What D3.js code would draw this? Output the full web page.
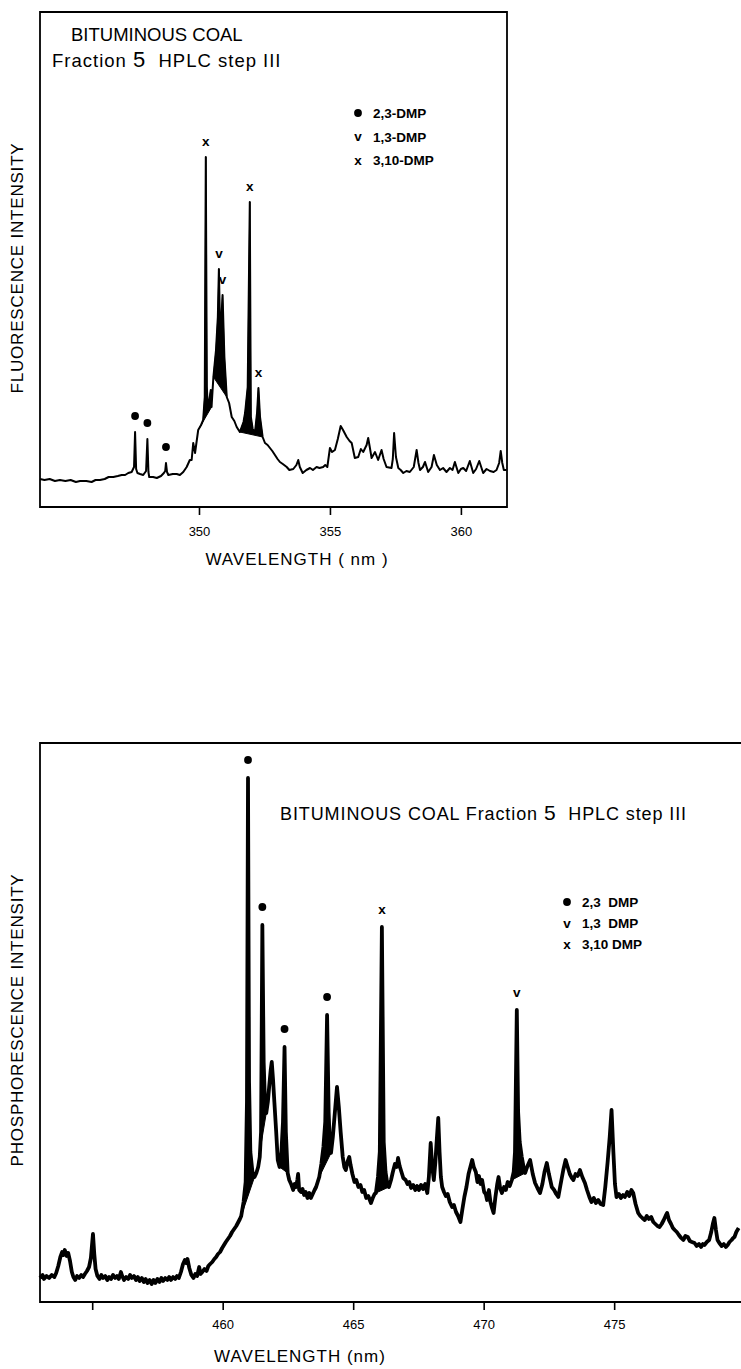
<!DOCTYPE html>
<html>
<head>
<meta charset="utf-8">
<script src="https://cdn.jsdelivr.net/npm/d3@7"></script>
<style>
  body { margin: 0; background: #fff; }
  text { font-family: "Liberation Sans", Arial, Helvetica, sans-serif; fill: #000; }
</style>
</head>
<body>
<svg id="chart"></svg>
<script>
// ---- data (wavelength nm, intensity arb. units) ----
const FLUOR_SPECTRUM = [
  [343.93,28],[344.1,27],[344.3,28],[344.5,26],[344.69,27],[344.9,26],[345.1,27],[345.3,25],
  [345.46,26],[345.7,26],[345.9,25],[346.05,27],[346.22,27],[346.4,28],[346.55,30],[346.73,30],
  [346.9,31],[347.05,32],[347.18,32],[347.3,34],[347.43,35],[347.52,40],[347.56,75],[347.6,38],
  [347.65,34],[347.75,33],[347.87,32],[347.98,36],[348.03,68],[348.07,35],[348.10,30],[348.25,30],
  [348.39,29],[348.55,31],[348.66,34],[348.71,36],[348.74,44],[348.78,35],[348.83,32],[349.0,33],
  [349.15,33],[349.27,32],[349.4,35],[349.53,40],[349.65,47],[349.72,47],[349.78,64],[349.85,54],
  [349.97,77],[350.08,82],[350.16,87],[350.22,110],[350.26,350],[350.30,120],[350.34,97],[350.45,117],
  [350.48,100],[350.55,130],[350.65,157],[350.72,190],[350.76,238],[350.81,170],[350.85,185],[350.90,212],
  [350.97,150],[351.06,110],[351.15,104],[351.25,90],[351.35,86],[351.44,80],[351.56,75],[351.70,85],
  [351.76,94],[351.86,120],[351.94,305],[351.98,90],[352.05,78],[352.14,75],[352.22,95],[352.27,119],
  [352.33,90],[352.43,70],[352.52,64],[352.62,62],[352.71,59],[352.80,56],[352.90,52],[353.0,48],
  [353.09,45],[353.2,43],[353.35,40],[353.45,37],[353.60,38],[353.72,42],[353.79,47],[353.85,40],
  [353.96,34],[354.1,37],[354.24,39],[354.35,37],[354.49,40],[354.6,39],[354.74,40],[354.82,42],
  [354.90,40],[355.00,59],[355.08,55],[355.19,57],[355.3,68],[355.41,81],[355.5,77],[355.64,70],
  [355.75,66],[355.83,64],[355.95,49],[356.08,50],[356.18,58],[356.27,55],[356.4,62],[356.46,69],
  [356.52,60],[356.59,49],[356.72,55],[356.84,47],[356.97,57],[357.05,48],[357.16,40],[357.35,39],
  [357.40,48],[357.45,74],[357.52,50],[357.61,39],[357.70,37],[357.80,34],[357.92,36],[358.05,35],
  [358.2,40],[358.31,57],[358.38,44],[358.44,37],[358.55,40],[358.63,45],[358.75,35],[358.88,40],
  [358.97,52],[359.08,42],[359.20,37],[359.32,39],[359.45,35],[359.58,39],[359.68,37],[359.77,45],
  [359.90,34],[360.0,38],[360.09,39],[360.2,36],[360.34,46],[360.47,34],[360.58,38],[360.70,46],
  [360.85,34],[360.98,38],[361.11,36],[361.25,35],[361.36,37],[361.46,44],[361.52,56],[361.58,44],
  [361.64,37],[361.74,37]
];
// wavelength spans whose peaks print solid black
const FLUOR_FILLED = [[349.97, 350.48], [350.55, 351.06], [351.56, 352.43]];
const FLUOR_MARKERS = [
  [347.56, "dot"], [348.03, "dot"], [348.74, "dot"], [350.26, "x"],
  [350.76, "v"], [350.90, "v"], [351.94, "x"], [352.27, "x"]
];
const FLUOR_TICKS = [350, 355, 360];
const FLUOR_TICK_LABELS = ["350", "355", "360"];
const FLUOR_LEGEND = ["2,3-DMP", "1,3-DMP", "3,10-DMP"];

const PHOS_SPECTRUM = [
  [453.0,24],[453.1,27],[453.15,23],[453.25,26],[453.35,24],[453.45,27],[453.55,25],[453.62,29],
  [453.7,36],[453.78,45],[453.85,50],[453.9,47],[453.95,52],[454.02,46],[454.08,49],[454.15,41],
  [454.22,30],[454.28,25],[454.35,22],[454.42,26],[454.5,24],[454.58,27],[454.65,25],[454.72,28],
  [454.8,31],[454.88,35],[454.95,44],[455.03,68],[455.08,48],[455.13,33],[455.2,26],[455.28,23],
  [455.35,27],[455.42,24],[455.5,26],[455.58,22],[455.65,25],[455.72,23],[455.8,27],[455.88,24],
  [455.95,26],[456.02,23],[456.1,30],[456.15,26],[456.22,22],[456.3,25],[456.38,23],[456.45,27],
  [456.52,24],[456.6,26],[456.68,22],[456.75,25],[456.82,21],[456.9,24],[456.98,20],[457.05,23],
  [457.12,19],[457.2,22],[457.28,18],[457.35,22],[457.42,19],[457.5,23],[457.58,20],[457.65,24],
  [457.72,21],[457.8,24],[457.88,22],[457.95,25],[458.02,22],[458.1,25],[458.18,23],[458.25,26],
  [458.32,24],[458.4,30],[458.48,38],[458.55,42],[458.6,39],[458.65,43],[458.72,34],[458.8,27],
  [458.88,24],[458.95,28],[459.02,26],[459.1,35],[459.15,28],[459.22,30],[459.3,33],[459.38,31],
  [459.45,36],[459.52,38],[459.6,40],[459.68,43],[459.75,45],[459.82,48],[459.9,50],[459.98,54],
  [460.05,57],[460.12,60],[460.2,63],[460.28,66],[460.36,70],[460.44,73],[460.52,76],[460.6,80],
  [460.66,83],[460.71,86],[460.8,100],[460.88,120],[460.93,200],[460.97,524],[461.01,220],[461.06,150],
  [461.14,130],[461.22,125],[461.29,129],[461.36,135],[461.42,145],[461.47,170],[461.52,377],[461.57,240],
  [461.62,200],[461.67,189],[461.73,200],[461.78,215],[461.84,232],[461.88,240],[461.93,222],[461.98,200],
  [462.05,170],[462.11,142],[462.18,135],[462.25,150],[462.31,180],[462.37,255],[462.42,170],[462.49,129],
  [462.55,122],[462.62,118],[462.7,112],[462.76,118],[462.81,115],[462.86,122],[462.89,128],[462.93,112],
  [463.0,110],[463.06,113],[463.12,107],[463.18,110],[463.25,104],[463.32,109],[463.38,104],[463.45,108],
  [463.52,112],[463.58,115],[463.64,120],[463.7,125],[463.78,138],[463.86,155],[463.93,180],[464.0,287],
  [464.06,190],[464.11,155],[464.15,149],[464.22,165],[464.3,190],[464.38,215],[464.45,195],[464.52,170],
  [464.6,145],[464.66,135],[464.72,132],[464.78,140],[464.85,145],[464.9,137],[464.97,128],[465.05,120],
  [465.12,122],[465.2,115],[465.28,117],[465.35,110],[465.42,112],[465.5,104],[465.58,106],[465.68,99],
  [465.75,104],[465.82,108],[465.87,109],[465.95,125],[466.02,150],[466.1,375],[466.17,160],[466.24,130],
  [466.31,118],[466.37,115],[466.45,122],[466.52,130],[466.6,138],[466.67,135],[466.72,144],[466.78,136],
  [466.85,130],[466.92,124],[467.01,122],[467.08,118],[467.15,120],[467.22,114],[467.3,117],[467.38,112],
  [467.45,116],[467.52,112],[467.6,117],[467.68,113],[467.76,118],[467.84,109],[467.9,125],[467.97,159],
  [468.03,135],[468.09,122],[468.15,140],[468.21,165],[468.26,184],[468.31,150],[468.36,125],[468.41,115],
  [468.48,110],[468.55,106],[468.62,108],[468.7,100],[468.79,95],[468.86,97],[468.94,90],[469.02,86],
  [469.11,80],[469.18,92],[469.26,105],[469.34,115],[469.42,128],[469.5,136],[469.56,142],[469.62,135],
  [469.7,130],[469.76,120],[469.82,126],[469.88,118],[469.94,122],[470.02,110],[470.08,108],[470.13,102],
  [470.2,112],[470.26,100],[470.32,94],[470.38,89],[470.45,105],[470.52,118],[470.57,125],[470.63,114],
  [470.7,109],[470.78,115],[470.85,112],[470.92,120],[471.0,116],[471.08,122],[471.15,130],[471.2,150],
  [471.27,292],[471.32,190],[471.38,160],[471.46,145],[471.53,135],[471.59,129],[471.68,136],[471.78,142],
  [471.88,128],[471.97,119],[472.06,114],[472.16,109],[472.25,118],[472.33,130],[472.42,139],[472.5,128],
  [472.61,115],[472.7,112],[472.78,108],[472.86,105],[472.95,118],[473.05,132],[473.14,142],[473.22,135],
  [473.3,128],[473.38,124],[473.44,122],[473.52,128],[473.6,126],[473.69,132],[473.78,125],[473.88,119],
  [473.96,112],[474.05,105],[474.13,100],[474.22,104],[474.3,99],[474.39,102],[474.48,98],[474.58,97],
  [474.66,115],[474.75,140],[474.83,165],[474.9,192],[474.97,150],[475.03,118],[475.09,105],[475.18,108],
  [475.26,104],[475.34,107],[475.41,105],[475.5,110],[475.58,106],[475.66,112],[475.73,109],[475.82,98],
  [475.92,89],[476.0,86],[476.08,84],[476.17,82],[476.25,86],[476.33,83],[476.42,85],[476.5,80],
  [476.58,78],[476.66,76],[476.74,75],[476.82,78],[476.9,82],[476.97,86],[477.03,89],[477.1,82],
  [477.18,78],[477.25,74],[477.32,72],[477.4,70],[477.48,67],[477.57,64],[477.65,62],[477.73,66],
  [477.82,65],[477.9,61],[477.98,60],[478.08,59],[478.16,56],[478.25,58],[478.33,55],[478.4,58],
  [478.46,57],[478.55,60],[478.64,62],[478.72,70],[478.78,78],[478.84,84],[478.9,72],[478.96,62],
  [479.03,59],[479.12,56],[479.2,58],[479.28,55],[479.35,57],[479.42,60],[479.5,62],[479.56,64],
  [479.61,65],[479.68,70],[479.77,74]
];
const PHOS_FILLED = [
  [460.71, 461.22], [461.29, 461.67], [462.18, 462.49],
  [463.7, 464.15], [465.87, 466.37], [471.08, 471.59]
];
const PHOS_MARKERS = [
  [460.97, "dot"], [461.52, "dot"], [462.37, "dot"], [464.0, "dot"],
  [466.1, "x"], [471.27, "v"]
];
const PHOS_TICKS = [455, 460, 465, 470, 475];
const PHOS_TICK_LABELS = ["", "460", "465", "470", "475"];
const PHOS_LEGEND = ["2,3  DMP", "1,3  DMP", "3,10 DMP"];

const LEGEND_SYMBOLS = ["dot", "v", "x"];

const svg = d3.select("#chart").attr("width", 741).attr("height", 1369);

function drawSymbol(g, type, cx, cy) {
  if (type === "dot") {
    g.append("circle").attr("cx", cx).attr("cy", cy).attr("r", 3.9).attr("fill", "#000");
  } else {
    g.append("text")
      .attr("x", cx).attr("y", cy + 4.5)
      .attr("text-anchor", "middle")
      .attr("font-size", 13.5)
      .attr("font-weight", "bold")
      .text(type);
  }
}

function drawPanel(cfg) {
  const x = d3.scaleLinear().domain(cfg.xDomain).range([cfg.left, cfg.right]);
  const y = d3.scaleLinear().domain([0, cfg.yMax]).range([cfg.bottom, cfg.top]);
  const g = svg.append("g");

  // frame
  const frame = cfg.closed
    ? `M${cfg.left},${cfg.bottom}V${cfg.top}H${cfg.right}V${cfg.bottom}Z`
    : `M${cfg.right},${cfg.top}H${cfg.left}V${cfg.bottom}H${cfg.right}`;
  g.append("path").attr("d", frame).attr("fill", "none")
    .attr("stroke", "#000").attr("stroke-width", 1.8);

  // solid filled peaks
  const closed = d3.line().x(d => x(d[0])).y(d => y(d[1])).curve(d3.curveLinearClosed);
  cfg.fills.forEach(([a, b]) => {
    const seg = cfg.data.filter(d => d[0] >= a && d[0] <= b);
    g.append("path").attr("d", closed(seg))
      .attr("fill", "#000").attr("stroke", "#000").attr("stroke-width", 1);
  });

  // spectrum trace
  const line = d3.line().x(d => x(d[0])).y(d => y(d[1]));
  g.append("path").datum(cfg.data).attr("d", line)
    .attr("fill", "none").attr("stroke", "#000")
    .attr("stroke-width", cfg.lineWidth)
    .attr("stroke-linejoin", "round");

  // x axis
  const axis = d3.axisBottom(x)
    .tickValues(cfg.ticks)
    .tickSize(8)
    .tickPadding(cfg.tickPadding)
    .tickFormat((d, i) => cfg.tickLabels[i]);
  const ag = g.append("g").attr("transform", `translate(0,${cfg.bottom})`).call(axis);
  ag.select(".domain").remove();
  ag.selectAll("line").attr("stroke", "#000").attr("stroke-width", 1.6);
  ag.selectAll("text")
    .attr("fill", "#000")
    .attr("font-size", 13)
    .attr("font-family", "'Liberation Sans', Arial, sans-serif");

  g.append("text")
    .attr("x", cfg.xTitleX).attr("y", cfg.xTitleY)
    .attr("text-anchor", "middle")
    .attr("font-size", 17)
    .attr("letter-spacing", 1)
    .style("white-space", "pre")
    .text(cfg.xTitle);

  g.append("text")
    .attr("transform", `translate(${cfg.yTitleX},${cfg.yTitleY}) rotate(-90)`)
    .attr("text-anchor", "middle")
    .attr("font-size", 17)
    .attr("letter-spacing", 0.8)
    .text(cfg.yTitle);

  // peak assignments
  cfg.markers.forEach(([wl, type]) => {
    const p = cfg.data.find(d => d[0] === wl);
    drawSymbol(g, type, x(wl), y(p[1]) - cfg.markerGap);
  });

  // legend
  cfg.legend.forEach((label, i) => {
    const ly = cfg.legendY + i * cfg.legendStep;
    drawSymbol(g, LEGEND_SYMBOLS[i], cfg.legendX, ly);
    g.append("text")
      .attr("x", cfg.legendX + 15).attr("y", ly + 5)
      .attr("font-size", 13.5)
      .attr("font-weight", "bold")
      .style("white-space", "pre")
      .text(label);
  });

  return g;
}

// upper panel: fluorescence
const upperPanel = drawPanel({
  data: FLUOR_SPECTRUM, fills: FLUOR_FILLED, markers: FLUOR_MARKERS,
  xDomain: [343.93, 361.76], yMax: 495,
  left: 40, right: 507, top: 12, bottom: 507, closed: true,
  lineWidth: 2, markerGap: 16,
  ticks: FLUOR_TICKS, tickLabels: FLUOR_TICK_LABELS, tickPadding: 12,
  xTitle: "WAVELENGTH ( nm )", xTitleX: 297, xTitleY: 565,
  yTitle: "FLUORESCENCE INTENSITY", yTitleX: 23, yTitleY: 268,
  legend: FLUOR_LEGEND, legendX: 358, legendY: 113, legendStep: 23.5
});
upperPanel.append("text").attr("x", 71).attr("y", 41).attr("font-size", 18.5)
  .text("BITUMINOUS COAL");
const subTitle = upperPanel.append("text").attr("x", 52).attr("y", 67)
  .attr("font-size", 18.5).attr("letter-spacing", 1).style("white-space", "pre");
subTitle.append("tspan").text("Fraction ");
subTitle.append("tspan").attr("font-size", 22).text("5");
subTitle.append("tspan").text("  HPLC step III");

// lower panel: phosphorescence
const lowerPanel = drawPanel({
  data: PHOS_SPECTRUM, fills: PHOS_FILLED, markers: PHOS_MARKERS,
  xDomain: [453.0, 479.86], yMax: 559,
  left: 40, right: 741, top: 743, bottom: 1302, closed: false,
  lineWidth: 3.8, markerGap: 18,
  ticks: PHOS_TICKS, tickLabels: PHOS_TICK_LABELS, tickPadding: 10,
  xTitle: "WAVELENGTH (nm)", xTitleX: 300, xTitleY: 1362,
  yTitle: "PHOSPHORESCENCE INTENSITY", yTitleX: 23, yTitleY: 1020,
  legend: PHOS_LEGEND, legendX: 567, legendY: 902, legendStep: 21
});
const lowerTitle = lowerPanel.append("text").attr("x", 280).attr("y", 820)
  .attr("font-size", 18).attr("letter-spacing", 0.9).style("white-space", "pre");
lowerTitle.append("tspan").text("BITUMINOUS COAL Fraction ");
lowerTitle.append("tspan").attr("font-size", 21).text("5");
lowerTitle.append("tspan").text("  HPLC step III");
</script>
</body>
</html>
